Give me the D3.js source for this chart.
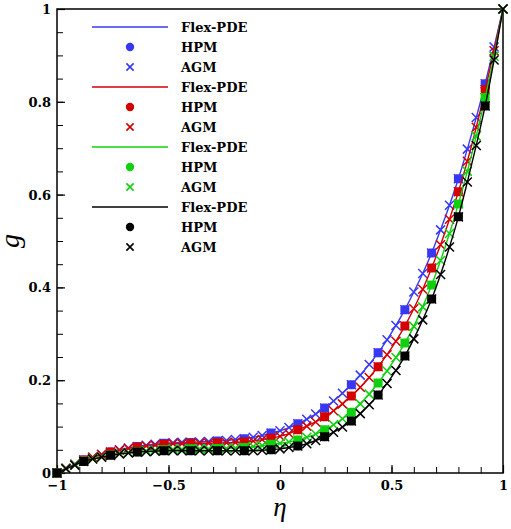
<!DOCTYPE html>
<html>
<head>
<meta charset="utf-8">
<script src="https://cdn.jsdelivr.net/npm/d3@7"></script>
<style>
  html, body { margin: 0; padding: 0; background: #fff; }
  svg { display: block; }
</style>
</head>
<body>
<svg id="chart" width="511" height="529"></svg>
<script>
// ---- data ----
// eta grid for AGM points (step 0.04); HPM points are every 3rd grid point (step 0.12)
const etaGrid = d3.range(51).map(k => +(-1 + 0.04 * k).toFixed(2));
const seriesNames = ["Flex-PDE", "HPM", "AGM"];
const curveColors = ["#3838f2", "#d40000", "#10d010", "#000000"];

const gBlue = [0, 0.010, 0.019, 0.028, 0.034, 0.040, 0.045, 0.050, 0.054, 0.057,
  0.060, 0.062, 0.064, 0.065, 0.066, 0.066, 0.067, 0.068, 0.069, 0.070,
  0.072, 0.074, 0.077, 0.081, 0.086, 0.091, 0.098, 0.106, 0.116, 0.127,
  0.140, 0.155, 0.172, 0.190, 0.211, 0.234, 0.259, 0.287, 0.318, 0.352,
  0.390, 0.430, 0.474, 0.524, 0.577, 0.634, 0.698, 0.766, 0.839, 0.918, 1.0];
const gRed = [0, 0.010, 0.019, 0.028, 0.034, 0.040, 0.045, 0.049, 0.053, 0.056,
  0.058, 0.060, 0.062, 0.063, 0.063, 0.064, 0.064, 0.064, 0.065, 0.065,
  0.066, 0.067, 0.069, 0.072, 0.075, 0.079, 0.085, 0.093, 0.101, 0.110,
  0.121, 0.134, 0.149, 0.166, 0.185, 0.206, 0.229, 0.255, 0.284, 0.317,
  0.354, 0.396, 0.442, 0.492, 0.547, 0.606, 0.672, 0.745, 0.826, 0.910, 1.0];
const gGreen = [0, 0.009, 0.018, 0.026, 0.031, 0.035, 0.039, 0.042, 0.044, 0.046,
  0.048, 0.049, 0.050, 0.051, 0.051, 0.052, 0.052, 0.052, 0.053, 0.053,
  0.054, 0.055, 0.057, 0.059, 0.062, 0.064, 0.067, 0.071, 0.077, 0.084,
  0.093, 0.104, 0.117, 0.131, 0.149, 0.170, 0.194, 0.220, 0.249, 0.280,
  0.316, 0.358, 0.405, 0.458, 0.516, 0.580, 0.650, 0.726, 0.809, 0.898, 1.0];
const gBlack = [0, 0.009, 0.017, 0.025, 0.030, 0.034, 0.038, 0.041, 0.043, 0.045,
  0.046, 0.047, 0.048, 0.048, 0.048, 0.048, 0.048, 0.048, 0.048, 0.048,
  0.048, 0.048, 0.048, 0.049, 0.050, 0.052, 0.055, 0.058, 0.063, 0.070,
  0.078, 0.088, 0.099, 0.112, 0.128, 0.147, 0.168, 0.193, 0.221, 0.252,
  0.289, 0.330, 0.375, 0.428, 0.487, 0.552, 0.627, 0.706, 0.791, 0.890, 1.0];
const curves = [gBlue, gRed, gGreen, gBlack];

const xMajor = [-1, -0.5, 0, 0.5, 1];
const xMinor = d3.range(-10, 11).map(k => k / 10);
const yMajor = [0, 0.2, 0.4, 0.6, 0.8, 1];
const yMinor = d3.range(0, 21).map(k => k / 20);

// ---- layout ----
const svg = d3.select("#chart");
const L = 57, R = 503, T = 9, B = 473;
const x = d3.scaleLinear().domain([-1, 1]).range([L, R]);
const y = d3.scaleLinear().domain([0, 1]).range([B, T]);
const tickFont = "'DejaVu Serif', serif";
const fmt = d => d3.format("~g")(d);

// minor ticks
svg.append("g").attr("transform", `translate(0,${B})`)
  .call(d3.axisBottom(x).tickValues(xMinor).tickSize(-6).tickFormat(""))
  .call(g => g.select(".domain").remove())
  .call(g => g.selectAll("line").attr("stroke", "#000").attr("stroke-width", 1));
svg.append("g").attr("transform", `translate(${L},0)`)
  .call(d3.axisLeft(y).tickValues(yMinor).tickSize(-6).tickFormat(""))
  .call(g => g.select(".domain").remove())
  .call(g => g.selectAll("line").attr("stroke", "#000").attr("stroke-width", 1));

// major ticks + labels
svg.append("g").attr("transform", `translate(0,${B})`)
  .call(d3.axisBottom(x).tickValues(xMajor).tickSize(-8).tickPadding(0).tickFormat(fmt))
  .call(g => g.select(".domain").remove())
  .call(g => g.selectAll("line").attr("stroke", "#000").attr("stroke-width", 1.2))
  .call(g => g.selectAll("text").attr("y", 17).attr("dy", 0)
    .attr("font-family", tickFont).attr("font-weight", "bold").attr("font-size", 13).attr("fill", "#000"));
svg.append("g").attr("transform", `translate(${L},0)`)
  .call(d3.axisLeft(y).tickValues(yMajor).tickSize(-8).tickFormat(fmt))
  .call(g => g.select(".domain").remove())
  .call(g => g.selectAll("line").attr("stroke", "#000").attr("stroke-width", 1.2))
  .call(g => g.selectAll("text").attr("x", -6).attr("dy", "0.35em")
    .attr("font-family", tickFont).attr("font-weight", "bold").attr("font-size", 13).attr("fill", "#000"));

// frame
svg.append("rect").attr("x", L).attr("y", T).attr("width", R - L).attr("height", B - T)
  .attr("fill", "none").attr("stroke", "#000").attr("stroke-width", 1.5);

// axis titles
svg.append("text").attr("x", x(0)).attr("y", 516).attr("text-anchor", "middle")
  .attr("font-family", "'Liberation Serif', serif").attr("font-style", "italic")
  .attr("font-size", 27).text("η");
svg.append("text").attr("transform", `translate(19,${y(0.5)}) rotate(-90)`)
  .attr("text-anchor", "middle")
  .attr("font-family", "'Liberation Serif', serif").attr("font-style", "italic")
  .attr("font-size", 28).text("g");

// ---- series ----
const plot = svg.append("g");
const line = d3.line().x(d => x(d[0])).y(d => y(d[1])).curve(d3.curveMonotoneX);
const xPath = (cx, cy, s) => `M${cx - s},${cy - s}L${cx + s},${cy + s}M${cx - s},${cy + s}L${cx + s},${cy - s}`;

curves.forEach((gv, ci) => {
  const col = curveColors[ci];
  const pts = etaGrid.map((e, k) => [e, gv[k]]);
  const grp = plot.append("g");
  grp.append("path").attr("d", line(pts)).attr("fill", "none")
    .attr("stroke", col).attr("stroke-width", 1.4);
  const hpm = pts.filter((p, k) => k % 3 === 0);
  grp.selectAll("rect.hpm").data(hpm).join("rect").attr("class", "hpm")
    .attr("x", d => x(d[0]) - 4.5).attr("y", d => y(d[1]) - 4.5)
    .attr("width", 9).attr("height", 9).attr("rx", 2.5)
    .attr("fill", col);
  grp.selectAll("path.agm").data(pts).join("path").attr("class", "agm")
    .attr("d", d => xPath(x(d[0]), y(d[1]), 4.5))
    .attr("stroke", col).attr("stroke-width", 1.5).attr("fill", "none");
});

// ---- legend ----
const leg = svg.append("g");
const rowH = 20, leg0 = 27;
curves.forEach((gv, ci) => {
  const col = curveColors[ci];
  seriesNames.forEach((name, si) => {
    const yy = leg0 + (ci * 3 + si) * rowH;
    if (si === 0) {
      leg.append("line").attr("x1", 92).attr("x2", 168).attr("y1", yy).attr("y2", yy)
        .attr("stroke", col).attr("stroke-width", 1.4);
    } else if (si === 1) {
      leg.append("circle").attr("cx", 130).attr("cy", yy).attr("r", 4.2).attr("fill", col);
    } else {
      leg.append("path").attr("d", xPath(130, yy, 3.6))
        .attr("stroke", col).attr("stroke-width", 1.6).attr("fill", "none");
    }
    leg.append("text").attr("x", 181).attr("y", yy).attr("dy", "0.35em")
      .attr("font-family", tickFont).attr("font-weight", "bold").attr("font-size", 13)
      .text(name);
  });
});
</script>
</body>
</html>
